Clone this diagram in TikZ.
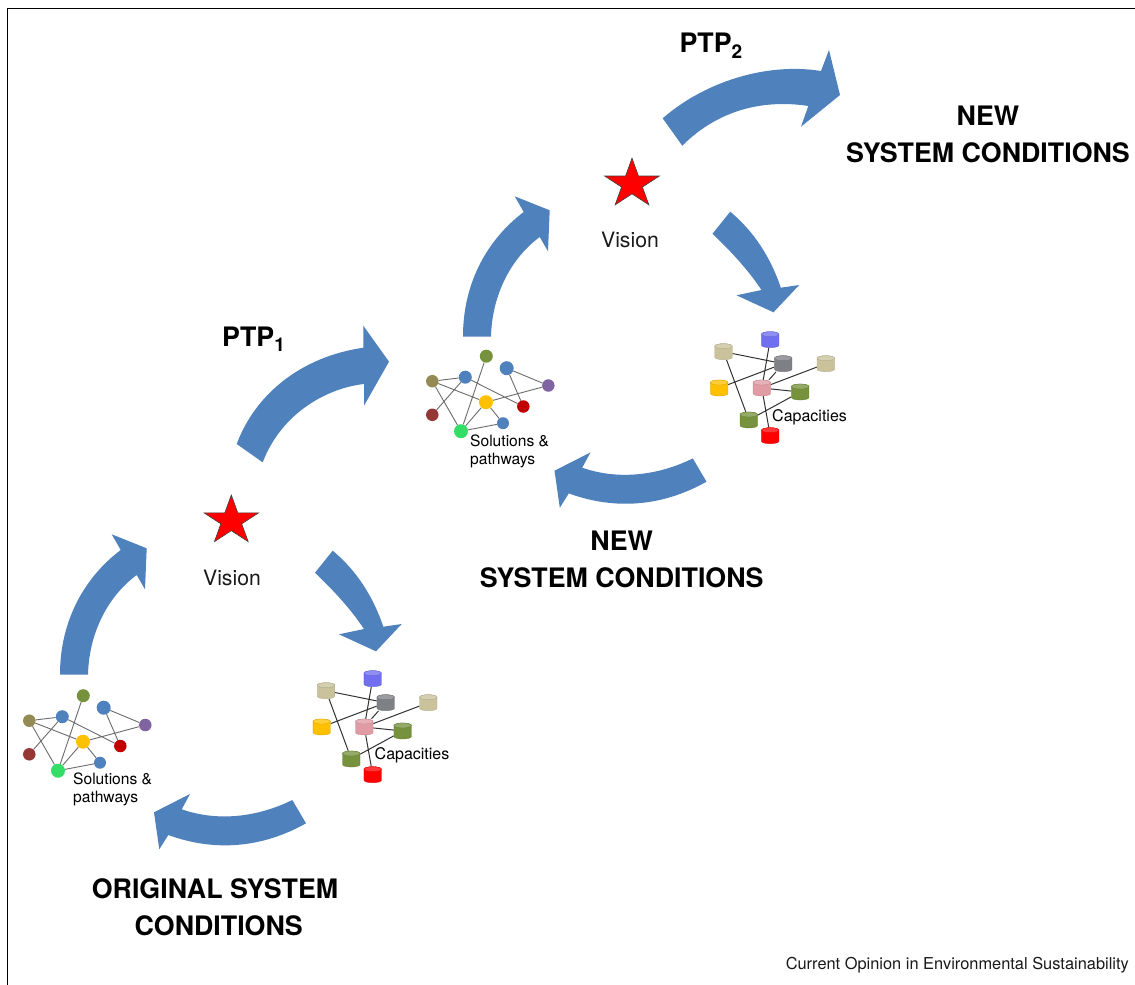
\documentclass[tikz,border=0pt]{standalone}
\usepackage{fontspec}
\setmainfont{TeX Gyre Heros}
\usetikzlibrary{backgrounds}
\definecolor{arrowblue}{HTML}{4F81BD}
\definecolor{inktext}{HTML}{1A1A1A}
\definecolor{olivedot}{HTML}{76923C}
\definecolor{khakidot}{HTML}{948A54}
\definecolor{purpledot}{HTML}{8064A2}
\definecolor{golddot}{HTML}{FFC000}
\definecolor{reddot}{HTML}{C00000}
\definecolor{browndot}{HTML}{953735}
\definecolor{greendot}{HTML}{33DD66}
\definecolor{canblue}{HTML}{6F6FF0}
\definecolor{cankhaki}{HTML}{C9C29B}
\definecolor{cangray}{HTML}{7F7F86}
\definecolor{canpink}{HTML}{E09BA5}
\definecolor{cangreen}{HTML}{76923C}
\newcommand{\bigfont}{\fontsize{26.8}{37}\selectfont\bfseries}
\newcommand{\smallfont}{\fontsize{15.6}{18.4}\selectfont}
\newcommand{\subdigit}[1]{\raisebox{-5.5pt}{\fontsize{19}{19}\selectfont #1}}
% named box for connectors, with a small drawn can in it
\newcommand{\cancyl}[4]{%
  \node[canbox] (#1) at (#3,#4) {};
  \begin{scope}[shift={(#3,#4)}]
    \path[fill=#2,draw=#2!85!black,line width=.3pt] (-8.75,-5.5) -- (-8.75,5.5)
      arc[start angle=180,end angle=360,x radius=8.75pt,y radius=2.5pt]
      -- (8.75,-5.5)
      arc[start angle=0,end angle=180,x radius=8.75pt,y radius=2.5pt] -- cycle;
    \path[fill=#2!78!white,draw=#2!85!black,line width=.3pt] (0,-5.5)
      ellipse[x radius=8.75pt,y radius=2.5pt];
  \end{scope}}
\tikzset{
  x=1pt,y=-1pt,
  blockarrow/.style={fill=arrowblue,draw=none},
  dot/.style={circle,inner sep=0pt,minimum size=#1,draw=none},
  canbox/.style={rectangle,inner sep=0pt,minimum width=17.5,minimum height=16,draw=none},
  soledge/.style={draw=gray!85!black,line width=.9pt},
  capedge/.style={draw=black!80,line width=1pt},
  bigtext/.style={font=\bigfont,align=center,text=black,inner sep=0pt},
  smalltext/.style={font=\smallfont,align=left,text=black,inner sep=0pt},
  captext/.style={font=\fontsize{16}{18}\selectfont,text=black,inner sep=0pt},
  visiontext/.style={font=\fontsize{21.2}{24}\selectfont,text=inktext,inner sep=0pt},
  pics/uparrow/.style={code={
    \path[blockarrow] (60,674.5) .. controls (60,620) and (85,577) .. (120.7,550)
      -- (111.7,534.3) -- (146.7,548.3) -- (145,589.3) -- (136.7,575)
      .. controls (107,597) and (89,634) .. (88,674.5) -- cycle;
  }},
  pics/downarrow/.style={code={
    \path[blockarrow] (332.7,550.7) .. controls (356,570) and (373,596) .. (383.3,626.7)
      -- (401.7,624) -- (376,651.3) -- (339,634.3) -- (364,629)
      .. controls (350,608) and (333,590) .. (315,572.7) -- cycle;
  }},
  pics/leftarrow/.style={code={
    \path[blockarrow] (292.3,800) .. controls (258,817) and (218,822) .. (181.7,809.3)
      -- (190,794) -- (154,812.3) -- (159.3,849.3) -- (168.3,835)
      .. controls (215,852) and (262,848) .. (306,823.3) -- cycle;
  }},
  pics/visionstar/.style={code={
    \path[fill=red,draw=black!75,line width=.6pt,xscale=28.75,yscale=25.8]
      (0,-1) -- (.2245,-.309) -- (.951,-.309) -- (.363,.118) -- (.588,.809)
      -- (0,.382) -- (-.588,.809) -- (-.363,.118) -- (-.951,-.309) -- (-.2245,-.309) -- cycle;
  }},
  pics/solnet/.style={code={
    \node[dot=13,fill=olivedot] (olive) at (83.3,695.7) {};
    \node[dot=14,fill=arrowblue] (bigblue) at (103.7,707.7) {};
    \node[dot=13,fill=arrowblue] (blue) at (62.3,716.7) {};
    \node[dot=12.5,fill=khakidot] (khaki) at (29.3,720.7) {};
    \node[dot=12.5,fill=purpledot] (purple) at (145.3,725) {};
    \node[dot=14,fill=golddot] (gold) at (83,741.7) {};
    \node[dot=12.5,fill=reddot] (dred) at (120.3,746) {};
    \node[dot=12.5,fill=browndot] (brown) at (29.3,754.3) {};
    \node[dot=12,fill=arrowblue] (sblue) at (100,762.7) {};
    \node[dot=14,fill=greendot] (green) at (58,770.7) {};
    \begin{scope}[on background layer]
      \path[soledge] (khaki) -- (blue) (khaki) -- (gold) (khaki) -- (green)
        (blue) -- (brown) (blue) -- (dred) (olive) -- (green)
        (bigblue) -- (dred) (bigblue) -- (purple) (purple) -- (gold)
        (gold) -- (green) (gold) -- (sblue) (sblue) -- (green);
    \end{scope}
  }},
  pics/capnet/.style={code={
    \cancyl{cblue}{canblue}{372.7}{678.7}
    \cancyl{ckhakia}{cankhaki}{326}{690.7}
    \cancyl{cgray}{cangray}{385.7}{702.7}
    \cancyl{ckhakib}{cankhaki}{428.3}{702.7}
    \cancyl{cyellow}{golddot}{321.7}{727}
    \cancyl{cpink}{canpink}{364.3}{727}
    \cancyl{cgreena}{cangreen}{402.7}{731}
    \cancyl{cgreenb}{cangreen}{351.3}{759}
    \cancyl{cred}{red}{372.7}{774.7}
    \begin{scope}[on background layer]
      \path[capedge] (ckhakia) -- (cgray) (ckhakia) -- (cgreenb) (cblue) -- (cpink)
        (cgray) -- (cpink) (cgray) -- (cyellow) (ckhakib) -- (cpink)
        (cpink) -- (cgreena) (cpink) -- (cred) (cgreena) -- (cgreenb);
    \end{scope}
  }},
}
\begin{document}
\begin{tikzpicture}
\useasboundingbox (0,0) rectangle (1135,985);
\begin{scope}[on background layer]
  \fill[white] (0,0) rectangle (1135,985);
\end{scope}
\coordinate (frameBL) at (7.5,985);
\coordinate (frameTL) at (7.5,8.5);
\coordinate (frameTR) at (1135,8.5);
\draw[black,line width=1.5pt] (frameBL) -- (frameTL) -- (frameTR);

% lower cycle
\pic at (0,0) {uparrow};
\pic at (0,0) {downarrow};
\pic at (0,0) {leftarrow};
\pic at (231.3,520.8) {visionstar};
\node[visiontext] (vision1) at (232,578) {Vision};
\pic (s1-) at (0,0) {solnet};
\pic (c1-) at (0,0) {capnet};
\node[smalltext,anchor=base west] (sol1) at (73,802.5) {Solutions \&\\pathways};
\node[captext,anchor=base west] (cap1) at (374.5,759) {Capacities};
\node[bigtext] (orig) at (215,907) {ORIGINAL SYSTEM\\\hspace*{.278em}CONDITIONS};

% PTP1
\path[blockarrow] (236.7,444) .. controls (255,395) and (300,357) .. (363.3,347.7)
  -- (363.3,325.7) -- (389,361.7) -- (364,405.7) -- (364,384)
  .. controls (328,388) and (282,412) .. (262.7,462.3) -- cycle;
\node[bigtext,anchor=base west] (ptp1) at (222,346) {PTP\subdigit{1}};

% upper cycle
\pic at (403,-338) {uparrow};
\pic at (397.5,-339) {downarrow};
\pic at (400.5,-341.6) {leftarrow};
\pic at (632,184) {visionstar};
\node[visiontext] (vision2) at (630,240) {Vision};
\pic[shift={(403,-339.5)}] (s2-) at (0,0) {solnet};
\pic[shift={(397.5,-339)}] (c2-) at (0,0) {capnet};
\node[smalltext,anchor=base west] (sol2) at (470,464.5) {Solutions \&\\pathways};
\node[captext,anchor=base west] (cap2) at (772,421) {Capacities};
\node[bigtext] (new2) at (621.7,559) {NEW\\SYSTEM CONDITIONS};

% PTP2
\path[blockarrow] (662.7,118.3) .. controls (703,83) and (765,62) .. (821,71)
  -- (829,50) -- (840,95) -- (801,126.7) -- (808.3,106)
  .. controls (770,100) and (722,106) .. (682.3,145.7) -- cycle;
\node[bigtext,anchor=base west] (ptp2) at (679.3,52.7) {PTP\subdigit{2}};
\node[bigtext] (new3) at (988,134) {NEW\\SYSTEM CONDITIONS};

\node[font=\fontsize{16.4}{18}\selectfont,text=inktext,inner sep=0pt,anchor=base east] (credit) at (1129,969.3) {Current Opinion in Environmental Sustainability};
\end{tikzpicture}
\end{document}
